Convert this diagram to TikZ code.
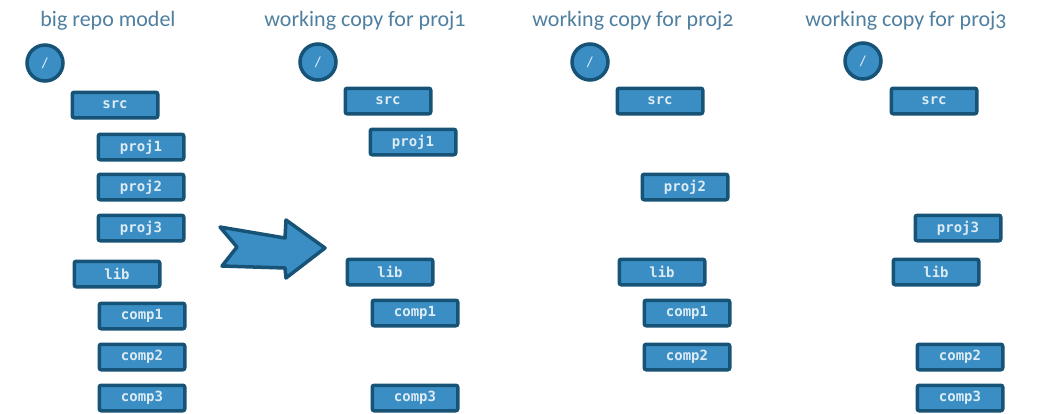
\documentclass[tikz,border=0pt]{standalone}
\usepackage{fontspec}
\setmainfont{Carlito}[Numbers=OldStyle]
\newfontfamily\boxfont{DejaVu Sans Mono}
\definecolor{boxfill}{HTML}{3A8EC4}
\definecolor{boxline}{HTML}{175377}
\definecolor{boxtext}{HTML}{DDEBF5}
\definecolor{titletext}{HTML}{4F7FA0}
\tikzset{
  dirbox/.style={draw=boxline, fill=boxfill, line width=3.5pt, rounded corners=2pt,
    minimum width=85.5pt, minimum height=25.5pt, inner sep=0pt, text=boxtext,
    font=\boxfont\bfseries\fontsize{14}{14}\selectfont},
  rootdir/.style={circle, draw=boxline, fill=boxfill, line width=3.5pt,
    minimum size=36pt, inner sep=0pt, text=boxtext,
    font=\boxfont\fontsize{13}{13}\selectfont},
  coltitle/.style={text=titletext, font=\fontsize{22}{22}\selectfont, inner sep=0pt},
  bigarrow/.style={draw=boxline, fill=boxfill, line width=3.5pt, line join=round}
}
\begin{document}
\begin{tikzpicture}[x=1pt, y=-1pt]
\useasboundingbox (0,0) rectangle (1043,413);

% column 1: the whole repository
\node[coltitle] (t1) at (108,21) {big repo model};
\node[rootdir] (r1) at (45,63) {/};
\node[dirbox] (s1) at (115,105) {src};
\node[dirbox] (p11) at (141,147) {proj1};
\node[dirbox] (p12) at (141,187) {proj2};
\node[dirbox] (p13) at (141,228) {proj3};
\node[dirbox] (l1) at (117,274) {lib};
\node[dirbox] (c11) at (142,316) {comp1};
\node[dirbox] (c12) at (142,357) {comp2};
\node[dirbox] (c13) at (142,398) {comp3};

% arrow from the repository to the working copies
\coordinate (atop) at (220,227);
\coordinate (ashaft) at (285,238);
\coordinate (ahead) at (286,220);
\coordinate (atip) at (325,248);
\coordinate (aheadb) at (286,278);
\coordinate (ashaftb) at (285,268);
\coordinate (abot) at (222,266);
\coordinate (anotch) at (237,247);
\draw[bigarrow] (atop) -- (ashaft) -- (ahead) -- (atip) -- (aheadb) -- (ashaftb) -- (abot) -- (anotch) -- cycle;

% column 2: working copy for proj1
\node[coltitle] (t2) at (365,21) {working copy for proj1};
\node[rootdir] (r2) at (318,62) {/};
\node[dirbox] (s2) at (388,101) {src};
\node[dirbox] (p21) at (413,142) {proj1};
\node[dirbox] (l2) at (390,272) {lib};
\node[dirbox] (c21) at (415,313) {comp1};
\node[dirbox] (c23) at (415,398) {comp3};

% column 3: working copy for proj2
\node[coltitle] (t3) at (633,21) {working copy for proj2};
\node[rootdir] (r3) at (590,62) {/};
\node[dirbox] (s3) at (660,101) {src};
\node[dirbox] (p32) at (685,187) {proj2};
\node[dirbox] (l3) at (662,272) {lib};
\node[dirbox] (c31) at (687,313) {comp1};
\node[dirbox] (c32) at (687,357) {comp2};

% column 4: working copy for proj3
\node[coltitle] (t4) at (906,21) {working copy for proj3};
\node[rootdir] (r4) at (863,61) {/};
\node[dirbox] (s4) at (934,101) {src};
\node[dirbox] (p43) at (958,228) {proj3};
\node[dirbox] (l4) at (936,272) {lib};
\node[dirbox] (c42) at (960,357) {comp2};
\node[dirbox] (c43) at (960,398) {comp3};
\end{tikzpicture}
\end{document}
